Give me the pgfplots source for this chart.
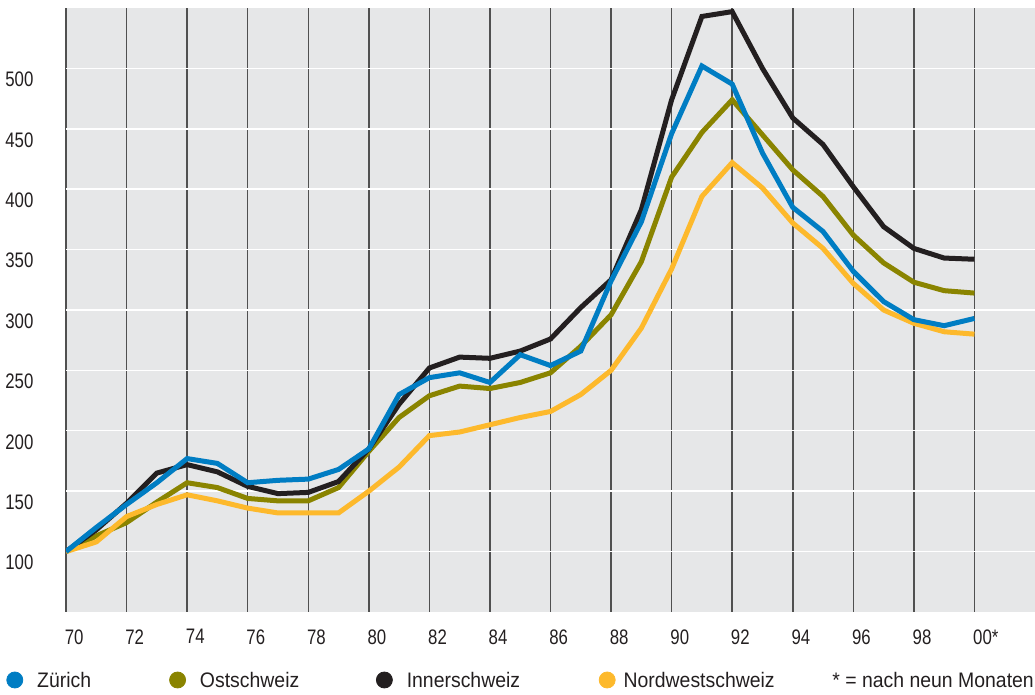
\documentclass[border=0pt]{standalone}
\usepackage{fontspec}
\setmainfont{Liberation Sans}[FakeStretch=0.925]
\newfontfamily\numfont{Liberation Sans}[FakeStretch=0.8]
\usepackage{pgfplots}
\pgfplotsset{compat=1.18}
\definecolor{zblue}{HTML}{007DC3}
\definecolor{oolive}{HTML}{8A8400}
\definecolor{iblack}{HTML}{231F20}
\definecolor{nyellow}{HTML}{FDB92C}
\definecolor{bggray}{HTML}{E6E7E8}
\definecolor{vgray}{HTML}{505050}

\pgfplotstableread{
year zur ost inn nws
70 100 100 100 100
71 120 113 118 108
72 139 124 140 129
73 157 141 165 139
74 177 157 172 147
75 173 153 166 142
76 157 144 154 136
77 159 142 148 132
78 160 142 149 132
79 168 153 158 132
80 185 183 185 150
81 230 211 222 170
82 244 229 252 196
83 248 237 261 199
84 240 235 260 205
85 263 240 266 211
86 254 248 276 216
87 266 270 302 230
88 324 296 325 250
89 373 340 383 285
90 446 410 474 334
91 502 447 543 394
92 487 474 547 422
93 430 445 500 401
94 385 416 459 372
95 365 394 437 351
96 332 362 402 322
97 307 339 369 300
98 292 323 351 289
99 287 316 343 282
100 293 314 342 280
}\datatable

\begin{document}
\begin{tikzpicture}
\begin{axis}[
  scale only axis, width=484.5pt, height=302pt,
  xmin=70, xmax=102, ymin=50, ymax=550,
  axis line style={draw=none},
  axis background/.style={fill=bggray},
  xtick={70,72,...,100},
  xticklabels={70,72,74,76,78,80,82,84,86,88,90,92,94,96,98,00*},
  ytick={100,150,...,500},
  major tick length=0pt,
  xmajorgrids, ymajorgrids,
  x grid style={vgray, line width=0.75pt},
  y grid style={white, line width=0.7pt},
  /pgf/number format/assume math mode=true,
  ticklabel style={font=\numfont\fontsize{10.5}{12}\selectfont, text=iblack, inner sep=0pt},
  xticklabel style={anchor=north west, xshift=-0.8pt, yshift=-8.5pt},
  yticklabel style={anchor=west, xshift=-30.5pt, yshift=-5.5pt},
  legend columns=-1,
  legend style={draw=none, fill=none, inner sep=0pt, column sep=0pt,
    at={(axis description cs:0,0)}, anchor=west, xshift=-30pt, yshift=-34pt,
    font=\fontsize{10.5}{12}\selectfont, text=iblack,
    nodes={inner sep=0pt, text depth=0pt}},
  legend image code/.code={\fill (4pt,0pt) circle (4pt); \path (15pt,0pt);},
]
\addlegendimage{color=zblue}
\addlegendentry{\makebox[66pt][l]{Zürich}}
\addlegendimage{color=oolive}
\addlegendentry{\makebox[88pt][l]{Ostschweiz}}
\addlegendimage{color=iblack}
\addlegendentry{\makebox[96pt][l]{Innerschweiz}}
\addlegendimage{color=nyellow, legend image code/.code={\fill (4pt,0pt) circle (4pt); \path (12pt,0pt);}}
\addlegendentry{Nordwestschweiz}
\addplot[forget plot, color=oolive, line width=2.5pt] table[x=year, y=ost] {\datatable};
\addplot[forget plot, color=iblack, line width=2.5pt] table[x=year, y=inn] {\datatable};
\addplot[forget plot, color=nyellow, line width=2.5pt] table[x=year, y=nws] {\datatable};
\addplot[forget plot, color=zblue, line width=2.5pt] table[x=year, y=zur] {\datatable};
\end{axis}
\node[anchor=west, inner sep=0pt, text=iblack, font=\fontsize{10.5}{12}\selectfont] at (383pt,-34pt) {* = nach neun Monaten};
\pgfresetboundingbox
\path[use as bounding box] (-33pt,-41.5pt) rectangle (484.5pt,306pt);
\end{tikzpicture}
\end{document}
